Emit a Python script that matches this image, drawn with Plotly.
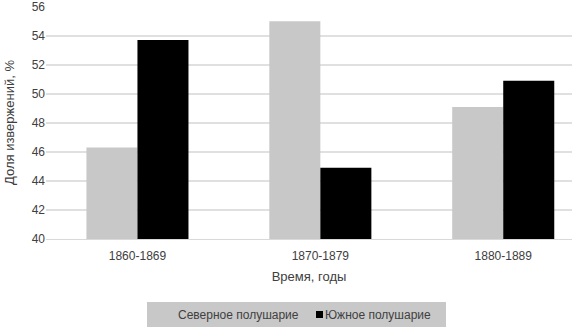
import plotly.graph_objects as go

categories = ["1860-1869", "1870-1879", "1880-1889"]
north = [46.3, 55.0, 49.1]
south = [53.7, 44.9, 50.9]
y_ticks = [40, 42, 44, 46, 48, 50, 52, 54, 56]
series_names = ["Северное полушарие", "Южное полушарие"]
colors = ["#c8c8c8", "#000000"]

W, H = 572, 330
L, R, T, B = 46, 0, 6, 91
pw, ph = W - L - R, H - T - B


def px2x(px):
    return (px - L) / pw


def py2y(py):
    return (H - B - py) / ph


fig = go.Figure()
fig.add_trace(go.Bar(x=categories, y=north, name=series_names[0],
                     marker=dict(color=colors[0], line=dict(width=0))))
fig.add_trace(go.Bar(x=categories, y=south, name=series_names[1],
                     marker=dict(color=colors[1], line=dict(width=0))))

font_fam = "Liberation Sans, Arial, sans-serif"

# manual legend (box, swatch, labels)
fig.add_shape(type="rect", xref="paper", yref="paper",
              x0=px2x(147), x1=px2x(446), y0=py2y(327), y1=py2y(302),
              fillcolor=colors[0], line=dict(width=0), layer="above")
fig.add_shape(type="rect", xref="paper", yref="paper",
              x0=px2x(316), x1=px2x(323), y0=py2y(318), y1=py2y(311),
              fillcolor=colors[1], line=dict(width=0), layer="above")
fig.add_annotation(xref="paper", yref="paper", x=px2x(176), y=py2y(315),
                   xanchor="left", yanchor="middle", showarrow=False,
                   text=series_names[0], font=dict(size=12, color="#404040"))
fig.add_annotation(xref="paper", yref="paper", x=px2x(323), y=py2y(315),
                   xanchor="left", yanchor="middle", showarrow=False,
                   text=series_names[1], font=dict(size=12, color="#404040"))

fig.update_layout(
    width=W, height=H,
    margin=dict(l=L, r=R, t=T, b=B, autoexpand=False),
    plot_bgcolor="white", paper_bgcolor="white",
    barmode="group", bargap=0.442, bargroupgap=0,
    font=dict(family=font_fam, size=12, color="#404040"),
    showlegend=False,
    xaxis=dict(title=dict(text="Время, годы", standoff=9, font=dict(size=13)),
               range=[-0.5, 2.376],
               showline=True, linecolor="#d9d9d9", linewidth=1, ticks="",
               ticklabelstandoff=6,
               tickfont=dict(size=12, color="#404040"), automargin=False),
    yaxis=dict(title=dict(text="Доля извержений, %", standoff=14, font=dict(size=13)),
               range=[40, 56.05], tickvals=y_ticks, showgrid=True, gridcolor="#e0e0e0",
               gridwidth=1.5, zeroline=False, ticks="", automargin=False,
               ticklabeloverflow="allow",
               tickfont=dict(size=12, color="#404040")),
)
fig.write_html("out.html", config={"displayModeBar": False},
               post_script="document.body.style.margin='0';document.body.style.overflow='hidden';")
